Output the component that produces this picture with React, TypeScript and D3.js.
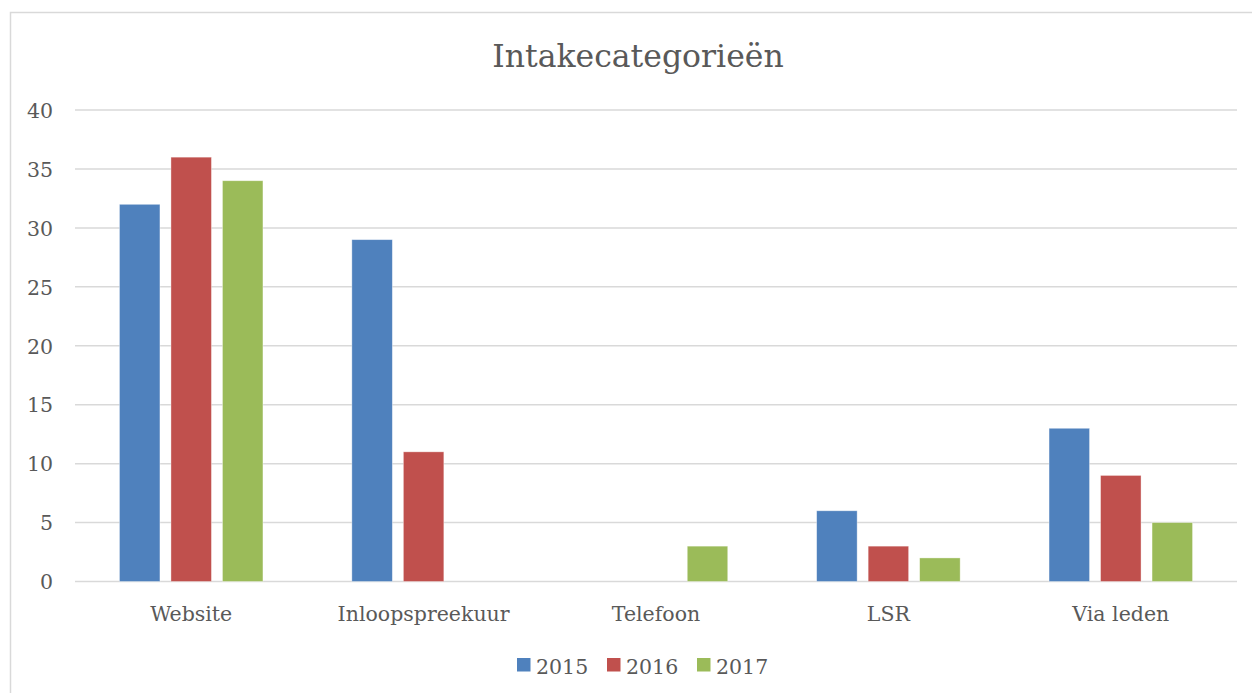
import React from "react";
import * as d3 from "d3";

const categories = ["Website", "Inloopspreekuur", "Telefoon", "LSR", "Via leden"];
const seriesNames = ["2015", "2016", "2017"];
const values2015 = [32, 29, 0, 6, 13];
const values2016 = [36, 11, 0, 3, 9];
const values2017 = [34, 0, 3, 2, 5];
const seriesValues = [values2015, values2016, values2017];
const colors = ["#4F81BD", "#C0504D", "#9BBB59"];
const yTicks = [0, 5, 10, 15, 20, 25, 30, 35, 40];

const W = 1252;
const H = 693;
const FONT = "'DejaVu Serif', serif";
const TEXT = "#595959";

export default function App() {
  const left = 75;
  const right = 1237;
  const top = 110;
  const bottom = 581.5;
  const x0 = d3.scaleBand<string>().domain(categories).range([left, right]).paddingInner(0).paddingOuter(0);
  const y = d3.scaleLinear().domain([0, 40]).range([bottom, top]);
  const bw = x0.bandwidth();
  const barW = 40.5;
  const gap = 11;
  const groupW = 3 * barW + 2 * gap;
  const legendX = [517, 607, 697];

  return (
    <svg width={W} height={H} style={{ position: "absolute", left: 0, top: 0, background: "#fff" }}>
      <rect x={0} y={0} width={W} height={H} fill="#fff" />
      <path d={`M10.5,${H + 5}V12.5H${W + 5}`} fill="none" stroke="#D9D9D9" strokeWidth={1.5} />
      <text x={638} y={67} textAnchor="middle" fontFamily={FONT} fontSize={31.5} fill={TEXT}>
        Intakecategorieën
      </text>
      {yTicks.map((t) => (
        <g key={t}>
          <line x1={left} x2={right} y1={y(t)} y2={y(t)} stroke="#D9D9D9" strokeWidth={1.5} />
          <text x={53} y={y(t)} dy="0.38em" textAnchor="end" fontFamily={FONT} fontSize={20.5} fill={TEXT}>
            {t}
          </text>
        </g>
      ))}
      {categories.map((c, ci) => {
        const start = (x0(c) as number) + (bw - groupW) / 2;
        return (
          <g key={c}>
            {seriesValues.map((vals, si) =>
              vals[ci] > 0 ? (
                <rect
                  key={si}
                  x={start + si * (barW + gap)}
                  y={y(vals[ci])}
                  width={barW}
                  height={y(0) - y(vals[ci])}
                  fill={colors[si]}
                  stroke="#fff"
                  strokeOpacity={0.5}
                  strokeWidth={0.75}
                />
              ) : null
            )}
            <text x={(x0(c) as number) + bw / 2} y={621} textAnchor="middle" fontFamily={FONT} fontSize={20.5} fill={TEXT}>
              {c}
            </text>
          </g>
        );
      })}
      {seriesNames.map((s, i) => (
        <g key={s}>
          <rect x={legendX[i]} y={658} width={13.5} height={13.5} fill={colors[i]} />
          <text x={legendX[i] + 19} y={673.5} fontFamily={FONT} fontSize={20.5} fill={TEXT}>
            {s}
          </text>
        </g>
      ))}
    </svg>
  );
}
